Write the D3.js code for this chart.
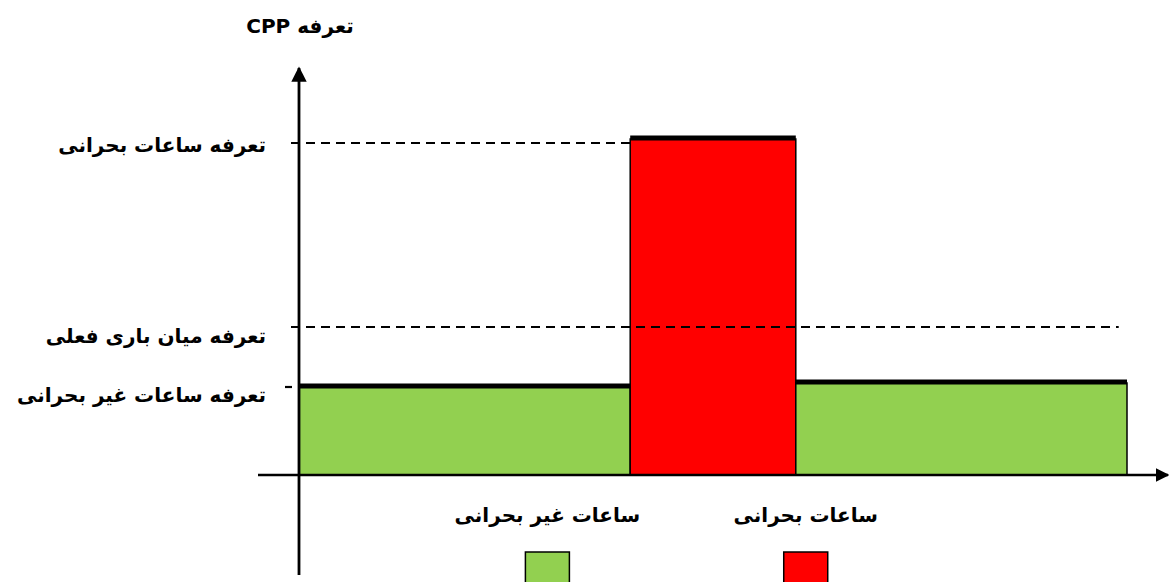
<!DOCTYPE html>
<html>
<head>
<meta charset="utf-8">
<title>CPP</title>
<script src="https://d3js.org/d3.v7.min.js"></script>
<style>
	body { margin: 0; background: #fff; }
	text { font-family: "DejaVu Sans", sans-serif; font-weight: bold; fill: #000; }
</style>
</head>
<body>
<div id="chart"></div>
<script>
// tariff levels (relative units)
var levelNames = ["تعرفه ساعات بحرانی", "تعرفه میان باری فعلی", "تعرفه ساعات غیر بحرانی"];
var levelValues = [83, 37, 22];

// periods along the day
var periodStart = [0, 4, 6];
var periodEnd = [4, 6, 10];
var periodValue = [22, 84, 23];
var periodType = ["off", "peak", "off"];

var legendNames = ["ساعات غیر بحرانی", "ساعات بحرانی"];
var legendTypes = ["off", "peak"];
var legendPos = [3.0, 6.12];

var title = "تعرفه CPP";

var width = 1170, height = 582;

var colors = { off: "#92d050", peak: "#ff0000" };

var x = d3.scaleLinear().domain([0, 10]).range([299, 1127]);
var y = d3.scaleLinear().domain([0, 100]).range([475, 75]);

var svg = d3.select("#chart").append("svg")
	.attr("width", width)
	.attr("height", height);

var defs = svg.append("defs");
defs.append("marker")
	.attr("id", "arrow")
	.attr("viewBox", "0 0 10 10")
	.attr("refX", 9).attr("refY", 5)
	.attr("markerWidth", 5.5).attr("markerHeight", 5.5)
	.attr("markerUnits", "strokeWidth")
	.attr("orient", "auto")
	.append("path")
	.attr("d", "M0,0L10,5L0,10z")
	.attr("fill", "#000");

var data = periodStart.map(function(s, i) {
	return { start: s, end: periodEnd[i], value: periodValue[i], type: periodType[i] };
});

// bars
svg.append("g").selectAll("rect")
	.data(data)
	.enter().append("rect")
	.attr("x", function(d) { return x(d.start); })
	.attr("y", function(d) { return y(d.value); })
	.attr("width", function(d) { return x(d.end) - x(d.start); })
	.attr("height", function(d) { return y(0) - y(d.value); })
	.attr("fill", function(d) { return colors[d.type]; })
	.attr("stroke", "#000")
	.attr("stroke-width", 1.5);

// thick tops
svg.append("g").selectAll("line")
	.data(data)
	.enter().append("line")
	.attr("x1", function(d) { return x(d.start); })
	.attr("x2", function(d) { return x(d.end); })
	.attr("y1", function(d) { return y(d.value) - 1; })
	.attr("y2", function(d) { return y(d.value) - 1; })
	.attr("stroke", "#000")
	.attr("stroke-width", 5);

// dashed level lines
var dashEnd = [x(4), x(9.9), 292];
svg.append("g").selectAll("line")
	.data(levelValues)
	.enter().append("line")
	.attr("x1", function(d, i) { return i == 2 ? 285 : 291; })
	.attr("x2", function(d, i) { return dashEnd[i]; })
	.attr("y1", function(d) { return y(d); })
	.attr("y2", function(d) { return y(d); })
	.attr("stroke", "#000")
	.attr("stroke-width", 2.2)
	.attr("stroke-dasharray", "9,6");

// axes with arrows
svg.append("line")
	.attr("x1", 258).attr("x2", 1168)
	.attr("y1", y(0)).attr("y2", y(0))
	.attr("stroke", "#000").attr("stroke-width", 2.5)
	.attr("marker-end", "url(#arrow)");

svg.append("line")
	.attr("x1", x(0)).attr("x2", x(0))
	.attr("y1", 575).attr("y2", 68)
	.attr("stroke", "#000").attr("stroke-width", 2.8)
	.attr("marker-end", "url(#arrow)");

// level labels
svg.append("g").selectAll("text")
	.data(levelNames)
	.enter().append("text")
	.attr("x", 266)
	.attr("y", function(d, i) { return y(levelValues[i]) + [9, 16, 15][i]; })
	.attr("direction", "rtl")
	.attr("text-anchor", "start")
	.style("font-size", "20px")
	.text(function(d) { return d; });

// title
svg.append("text")
	.attr("x", 300).attr("y", 33)
	.attr("direction", "rtl")
	.attr("text-anchor", "middle")
	.style("font-size", "20px")
	.text(title);

// legend
var legend = svg.append("g").selectAll("g")
	.data(legendNames)
	.enter().append("g");

legend.append("text")
	.attr("x", function(d, i) { return x(legendPos[i]); })
	.attr("y", 522)
	.attr("direction", "rtl")
	.attr("text-anchor", "middle")
	.style("font-size", "20px")
	.text(function(d) { return d; });

legend.append("rect")
	.attr("x", function(d, i) { return x(legendPos[i]) - 22; })
	.attr("y", 552)
	.attr("width", 44)
	.attr("height", 36)
	.attr("fill", function(d, i) { return colors[legendTypes[i]]; })
	.attr("stroke", "#000")
	.attr("stroke-width", 1.5);
</script>
</body>
</html>
